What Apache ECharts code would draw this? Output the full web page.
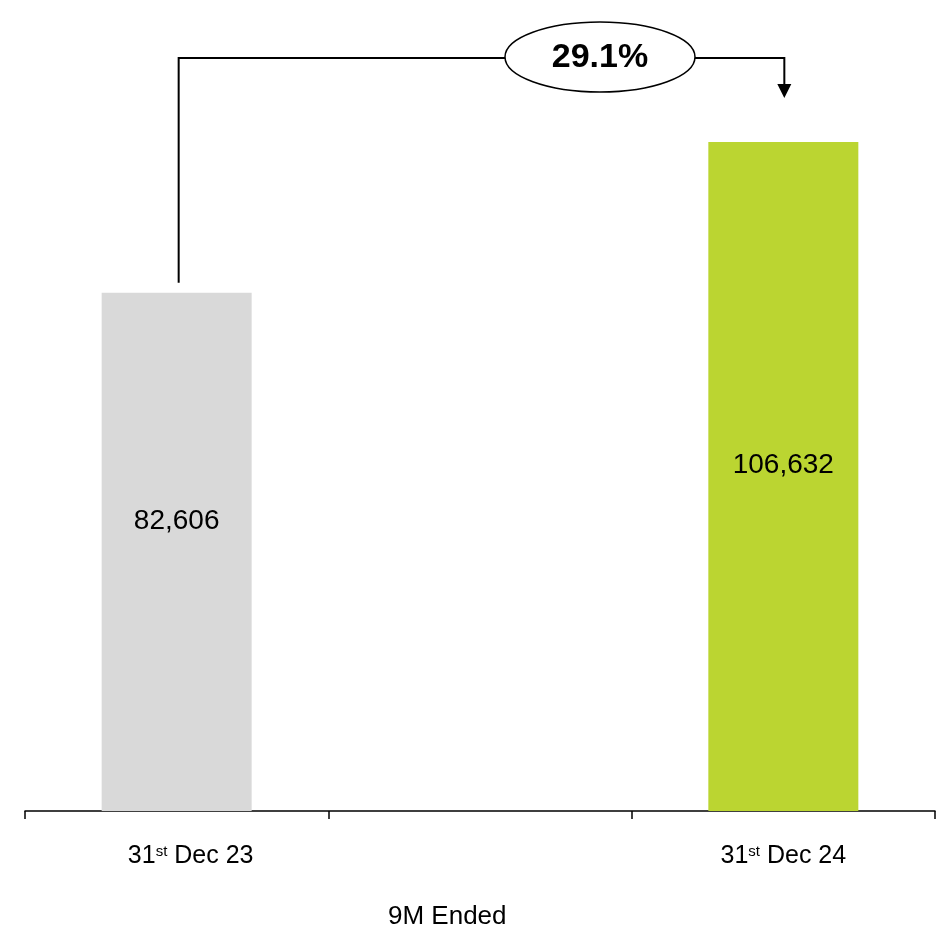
<!DOCTYPE html>
<html><head><meta charset="utf-8">
<script src="https://cdn.jsdelivr.net/npm/echarts@6/dist/echarts.min.js"></script>
<style>html,body{margin:0;padding:0;background:#fff}#c{width:946px;height:930px}</style>
</head><body><div id="c"></div>
<script>
const categories = ['31st Dec 23', '', '31st Dec 24'];
const values = [82606, null, 106632];
const barColors = ['#D9D9D9', '#D9D9D9', '#BBD531'];
const changeLabel = '29.1%';
const axisTitle = '9M Ended';

const chart = echarts.init(document.getElementById('c'));
const FONT = '"Liberation Sans",Arial,sans-serif';
const labelShift = [28, 0, 0];       // left padding of category labels
const valueLabelShift = [-31, 0, -11]; // vertical offset of value labels
chart.setOption({
  animation: false,
  grid: { left: 25, right: 11, top: 58, bottom: 119 },
  title: { text: axisTitle, left: 383, top: 899, textStyle: { fontFamily: FONT, fontWeight: 'normal', fontSize: 26, color: '#000' } },
  xAxis: {
    type: 'category',
    data: categories.map((c, i) => ({ value: c, textStyle: { padding: [0, 0, 0, labelShift[i]] } })),
    axisLine: { lineStyle: { color: '#000', width: 1.5 } },
    axisTick: { show: true, length: 8, lineStyle: { color: '#000', width: 1.5 } },
    axisLabel: {
      margin: 33, color: '#000', fontFamily: FONT, fontSize: 25,
      formatter: function (v) {
        const m = v.match(/^(\d+)(st|nd|rd|th)(.*)$/);
        if (!m) return v;
        return m[1] + '{sup|' + m[2] + '}' + m[3];
      },
      rich: { sup: { fontSize: 15, verticalAlign: 'top', padding: [0, 0, 10, 0], fontFamily: FONT, color: '#000' } }
    }
  },
  yAxis: { type: 'value', min: 0, max: 120000, show: false, splitLine: { show: false } },
  series: [{
    type: 'bar', barWidth: 150,
    data: values.map((v, i) => ({ value: v, itemStyle: { color: barColors[i] }, label: { offset: [0, valueLabelShift[i]] } })),
    label: {
      show: true, position: 'inside', color: '#000', fontSize: 28,
      fontFamily: FONT,
      formatter: p => p.value == null ? '' : p.value.toLocaleString('en-US')
    }
  }]
});

// annotation bracket, anchored to the bars through the chart's own scales
const p1 = chart.convertToPixel({ gridIndex: 0 }, [0, values[0]]);
const p2 = chart.convertToPixel({ gridIndex: 0 }, [2, values[2]]);
const yTop = 58, cx = 600, rx = 95, ry = 35;
const arrowTip = p2[1] - 44;
const ls = { stroke: '#000', lineWidth: 2 };
chart.setOption({
  graphic: [
    { type: 'polyline', shape: { points: [[p1[0] + 2, p1[1] - 10], [p1[0] + 2, yTop], [cx - rx, yTop]] }, style: ls },
    { type: 'polyline', shape: { points: [[cx + rx, yTop], [p2[0] + 1, yTop], [p2[0] + 1, arrowTip - 12]] }, style: ls },
    { type: 'polygon', shape: { points: [[p2[0] - 6, arrowTip - 14], [p2[0] + 8, arrowTip - 14], [p2[0] + 1, arrowTip]] }, style: { fill: '#000' } },
    { type: 'ellipse', shape: { cx: cx, cy: yTop - 1, rx: rx, ry: ry }, style: { fill: '#fff', stroke: '#000', lineWidth: 1.5 } },
    { type: 'text', x: cx, y: yTop, style: { text: changeLabel, font: 'bold 34px "Liberation Sans",sans-serif', fill: '#000', align: 'center', verticalAlign: 'middle' } }
  ]
});
</script></body></html>
